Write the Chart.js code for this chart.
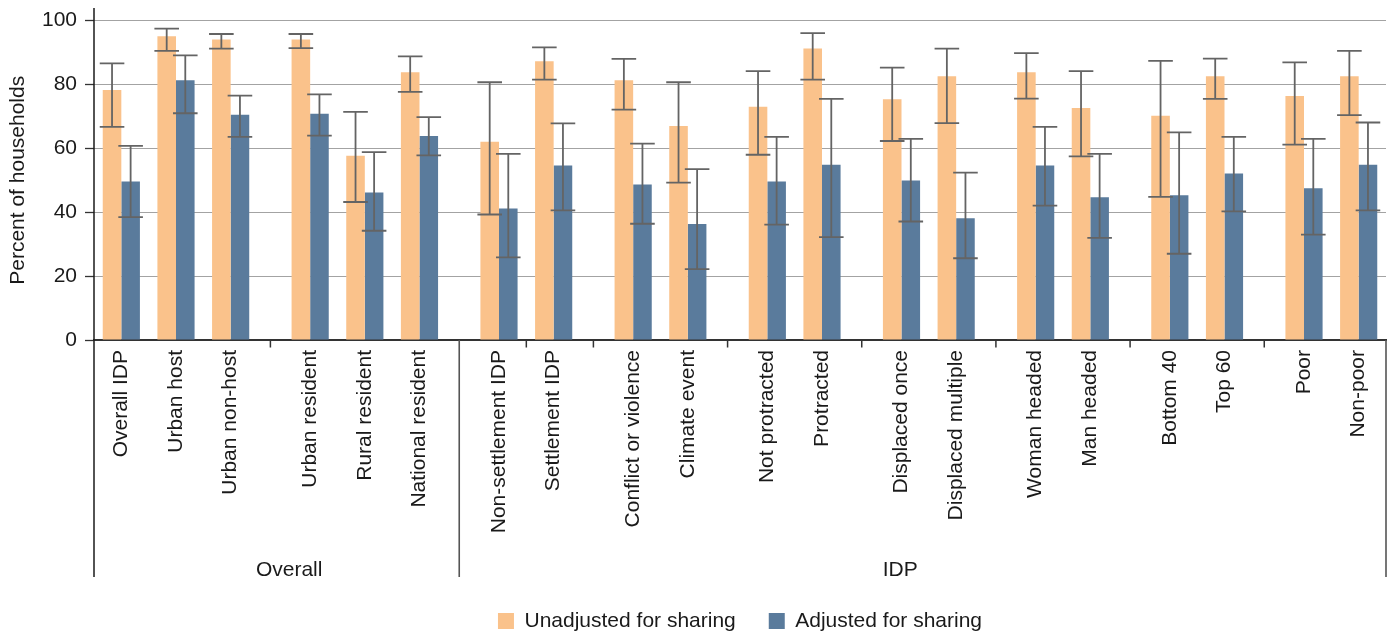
<!DOCTYPE html>
<html>
<head>
<meta charset="utf-8">
<title>Percent of households</title>
<script src="https://cdn.jsdelivr.net/npm/chart.js@4/dist/chart.umd.min.js"></script>
<style>
  html, body { margin: 0; padding: 0; background: #ffffff; }
  #wrap { width: 1390px; height: 635px; position: relative; }
</style>
</head>
<body>
<div id="wrap"><canvas id="chart"></canvas></div>
<script>
// Household groups shown along the horizontal axis
const categories = [
  'Overall IDP', 'Urban host', 'Urban non-host',
  'Urban resident', 'Rural resident', 'National resident',
  'Non-settlement IDP', 'Settlement IDP',
  'Conflict or violence', 'Climate event',
  'Not protracted', 'Protracted',
  'Displaced once', 'Displaced multiple',
  'Woman headed', 'Man headed',
  'Bottom 40', 'Top 60',
  'Poor', 'Non-poor'
];

// Panel each group belongs to, and the cluster it sits in within that panel
const panels = [
  'Overall', 'Overall', 'Overall', 'Overall', 'Overall', 'Overall',
  'IDP', 'IDP', 'IDP', 'IDP', 'IDP', 'IDP', 'IDP',
  'IDP', 'IDP', 'IDP', 'IDP', 'IDP', 'IDP', 'IDP'
];
const clusters = [0, 0, 0, 1, 1, 1, 2, 2, 3, 3, 4, 4, 5, 5, 6, 6, 7, 7, 8, 8];

// Unadjusted for sharing: estimate and confidence interval
const unadjusted     = [78.3, 95.1, 94.1, 94.1, 57.7, 83.8, 62.1, 87.3, 81.3, 67.0, 73.0, 91.3, 75.4, 82.6, 83.8, 72.6, 70.2, 82.6, 76.4, 82.6];
const unadjustedLow  = [66.7, 90.5, 91.2, 91.4, 43.2, 77.7, 39.3, 81.5, 72.1, 49.3, 58.0, 81.5, 62.3, 67.9, 75.6, 57.5, 44.8, 75.5, 61.2, 70.4];
const unadjustedHigh = [86.6, 97.5, 95.8, 95.8, 71.4, 88.8, 80.7, 91.6, 88.0, 80.7, 84.2, 96.1, 85.3, 91.2, 89.8, 84.2, 87.4, 88.1, 86.9, 90.5];

// Adjusted for sharing: estimate and confidence interval
const adjusted       = [49.6, 81.3, 70.5, 70.8, 46.2, 63.9, 41.2, 54.6, 48.7, 36.3, 49.6, 54.9, 49.9, 38.1, 54.6, 44.7, 45.3, 52.1, 47.5, 54.9];
const adjustedLow    = [38.5, 71.0, 63.6, 64.0, 34.2, 57.8, 25.9, 40.6, 36.4, 22.2, 36.1, 32.2, 37.1, 25.6, 42.1, 32.0, 27.0, 40.3, 33.0, 40.6];
const adjustedHigh   = [60.8, 89.1, 76.5, 76.9, 58.8, 69.8, 58.3, 67.8, 61.5, 53.5, 63.6, 75.5, 63.0, 52.4, 66.7, 58.3, 65.0, 63.6, 63.0, 68.1];

const seriesNames = ['Unadjusted for sharing', 'Adjusted for sharing'];
const yTicks = [0, 20, 40, 60, 80, 100];

// ---- layout helpers -------------------------------------------------------
const FONT = '"Liberation Sans", Arial, Helvetica, sans-serif';
const TEXT = '#1a1a1a';
const CLUSTER_STEP = 16 / 11;          // distance between clusters, in category units

const xPos = [];
categories.forEach((_, i) => {
  if (i === 0) { xPos.push(0); return; }
  xPos.push(xPos[i - 1] + (clusters[i] === clusters[i - 1] ? 1 : CLUSTER_STEP));
});

// short dividers below the axis (after these category indexes)
const shortDividers = [2, 6, 7, 9, 11, 13, 15, 17];
// where each panel title is centred, in axis units
const panelTitleAt = { 'Overall': 3.07, 'IDP': 14.25 };

const points = (vals) => vals.map((v, i) => ({ x: xPos[i], y: v }));

// ---- plugins ----------------------------------------------------------------
const errorBars = {
  id: 'errorBars',
  afterDatasetsDraw(chart) {
    const { ctx } = chart;
    const y = chart.scales.y;
    const ranges = [[unadjustedLow, unadjustedHigh], [adjustedLow, adjustedHigh]];
    ctx.save();
    ctx.strokeStyle = '#646464';
    ctx.lineWidth = 1.8;
    ctx.lineCap = 'butt';
    chart.data.datasets.forEach((ds, di) => {
      const meta = chart.getDatasetMeta(di);
      const [lo, hi] = ranges[di];
      meta.data.forEach((bar, i) => {
        const x = bar.x;
        const yLo = y.getPixelForValue(lo[i]);
        const yHi = y.getPixelForValue(hi[i]);
        const half = 12.3;
        ctx.beginPath();
        ctx.moveTo(x, yLo); ctx.lineTo(x, yHi);
        ctx.moveTo(x - half, yLo); ctx.lineTo(x + half, yLo);
        ctx.moveTo(x - half, yHi); ctx.lineTo(x + half, yHi);
        ctx.stroke();
      });
    });
    ctx.restore();
  }
};

const panelFrame = {
  id: 'panelFrame',
  afterDraw(chart) {
    const { ctx, chartArea } = chart;
    const xs = chart.scales.x;
    const bottom = chartArea.bottom;
    const frameEnd = 577;
    const mid = (i) => (xs.getPixelForValue(xPos[i]) + xs.getPixelForValue(xPos[i + 1])) / 2;
    ctx.save();

    // vertical axis line, running from above the top gridline down past the labels
    ctx.strokeStyle = '#1a1a1a';
    ctx.lineWidth = 1.5;
    ctx.beginPath();
    ctx.moveTo(chartArea.left, 8);
    ctx.lineTo(chartArea.left, frameEnd);
    ctx.stroke();

    // panel boundaries
    ctx.strokeStyle = '#555555';
    ctx.lineWidth = 1.6;
    ctx.beginPath();
    for (let i = 0; i < categories.length - 1; i++) {
      if (panels[i] !== panels[i + 1]) {
        const x = mid(i);
        ctx.moveTo(x, bottom); ctx.lineTo(x, frameEnd);
      }
    }
    ctx.moveTo(chartArea.right, bottom); ctx.lineTo(chartArea.right, frameEnd);
    ctx.stroke();

    // short dividers between clusters
    ctx.strokeStyle = '#333333';
    ctx.lineWidth = 1.5;
    ctx.beginPath();
    shortDividers.forEach((i) => {
      const x = mid(i);
      ctx.moveTo(x, bottom); ctx.lineTo(x, bottom + 7.5);
    });
    ctx.stroke();

    // panel titles
    ctx.fillStyle = TEXT;
    ctx.font = '21px ' + FONT;
    ctx.textAlign = 'center';
    ctx.textBaseline = 'alphabetic';
    Object.keys(panelTitleAt).forEach((name) => {
      ctx.fillText(name, xs.getPixelForValue(panelTitleAt[name]), 576);
    });
    ctx.restore();
  }
};

// ---- chart --------------------------------------------------------------------
Chart.defaults.font.family = FONT;
Chart.defaults.font.size = 21;
Chart.defaults.color = TEXT;

new Chart(document.getElementById('chart'), {
  type: 'bar',
  data: {
    datasets: [
      {
        label: seriesNames[0],
        data: points(unadjusted),
        backgroundColor: '#FAC28B',
        borderWidth: 0
      },
      {
        label: seriesNames[1],
        data: points(adjusted),
        backgroundColor: '#5A7B9C',
        borderWidth: 0
      }
    ]
  },
  options: {
    responsive: true,
    maintainAspectRatio: false,
    animation: false,
    events: [],
    datasets: {
      bar: { categoryPercentage: 0.68, barPercentage: 1.0 }
    },
    layout: { padding: { left: 0, right: 4, top: 18, bottom: -6.5 } },
    plugins: {
      tooltip: { enabled: false },
      legend: {
        position: 'bottom',
        fullSize: false,
        labels: {
          boxWidth: 16,
          boxHeight: 16,
          padding: 33,
          color: TEXT,
          font: { size: 21, family: FONT }
        }
      }
    },
    scales: {
      x: {
        type: 'linear',
        min: -0.5,
        max: xPos[xPos.length - 1] + 0.5,
        offset: false,
        grid: { display: false, drawTicks: false },
        border: { display: true, color: '#333333', width: 2 },
        afterBuildTicks(scale) {
          scale.ticks = xPos.map((v) => ({ value: v }));
        },
        afterFit(scale) {
          scale.height = 237.5;
          scale.paddingLeft = 0;
          scale.paddingRight = 0;
        },
        ticks: {
          autoSkip: false,
          minRotation: 90,
          maxRotation: 90,
          padding: 10,
          color: TEXT,
          font: { size: 21, family: FONT },
          callback: (value, index) => categories[index]
        }
      },
      y: {
        min: 0,
        max: 100,
        afterBuildTicks(scale) {
          scale.ticks = yTicks.map((v) => ({ value: v }));
        },
        afterFit(scale) { scale.width = 94; },
        grid: {
          color: '#a3a3a3',
          lineWidth: 1,
          drawTicks: true,
          tickLength: 9,
          tickColor: '#333333',
          tickWidth: 1.3
        },
        border: { display: false },
        ticks: {
          padding: 8,
          color: TEXT,
          font: { size: 21, family: FONT }
        },
        title: {
          display: true,
          text: 'Percent of households',
          color: TEXT,
          font: { size: 21, family: FONT },
          padding: { top: 5.4, bottom: 0 }
        }
      }
    }
  },
  plugins: [errorBars, panelFrame]
});
</script>
</body>
</html>
